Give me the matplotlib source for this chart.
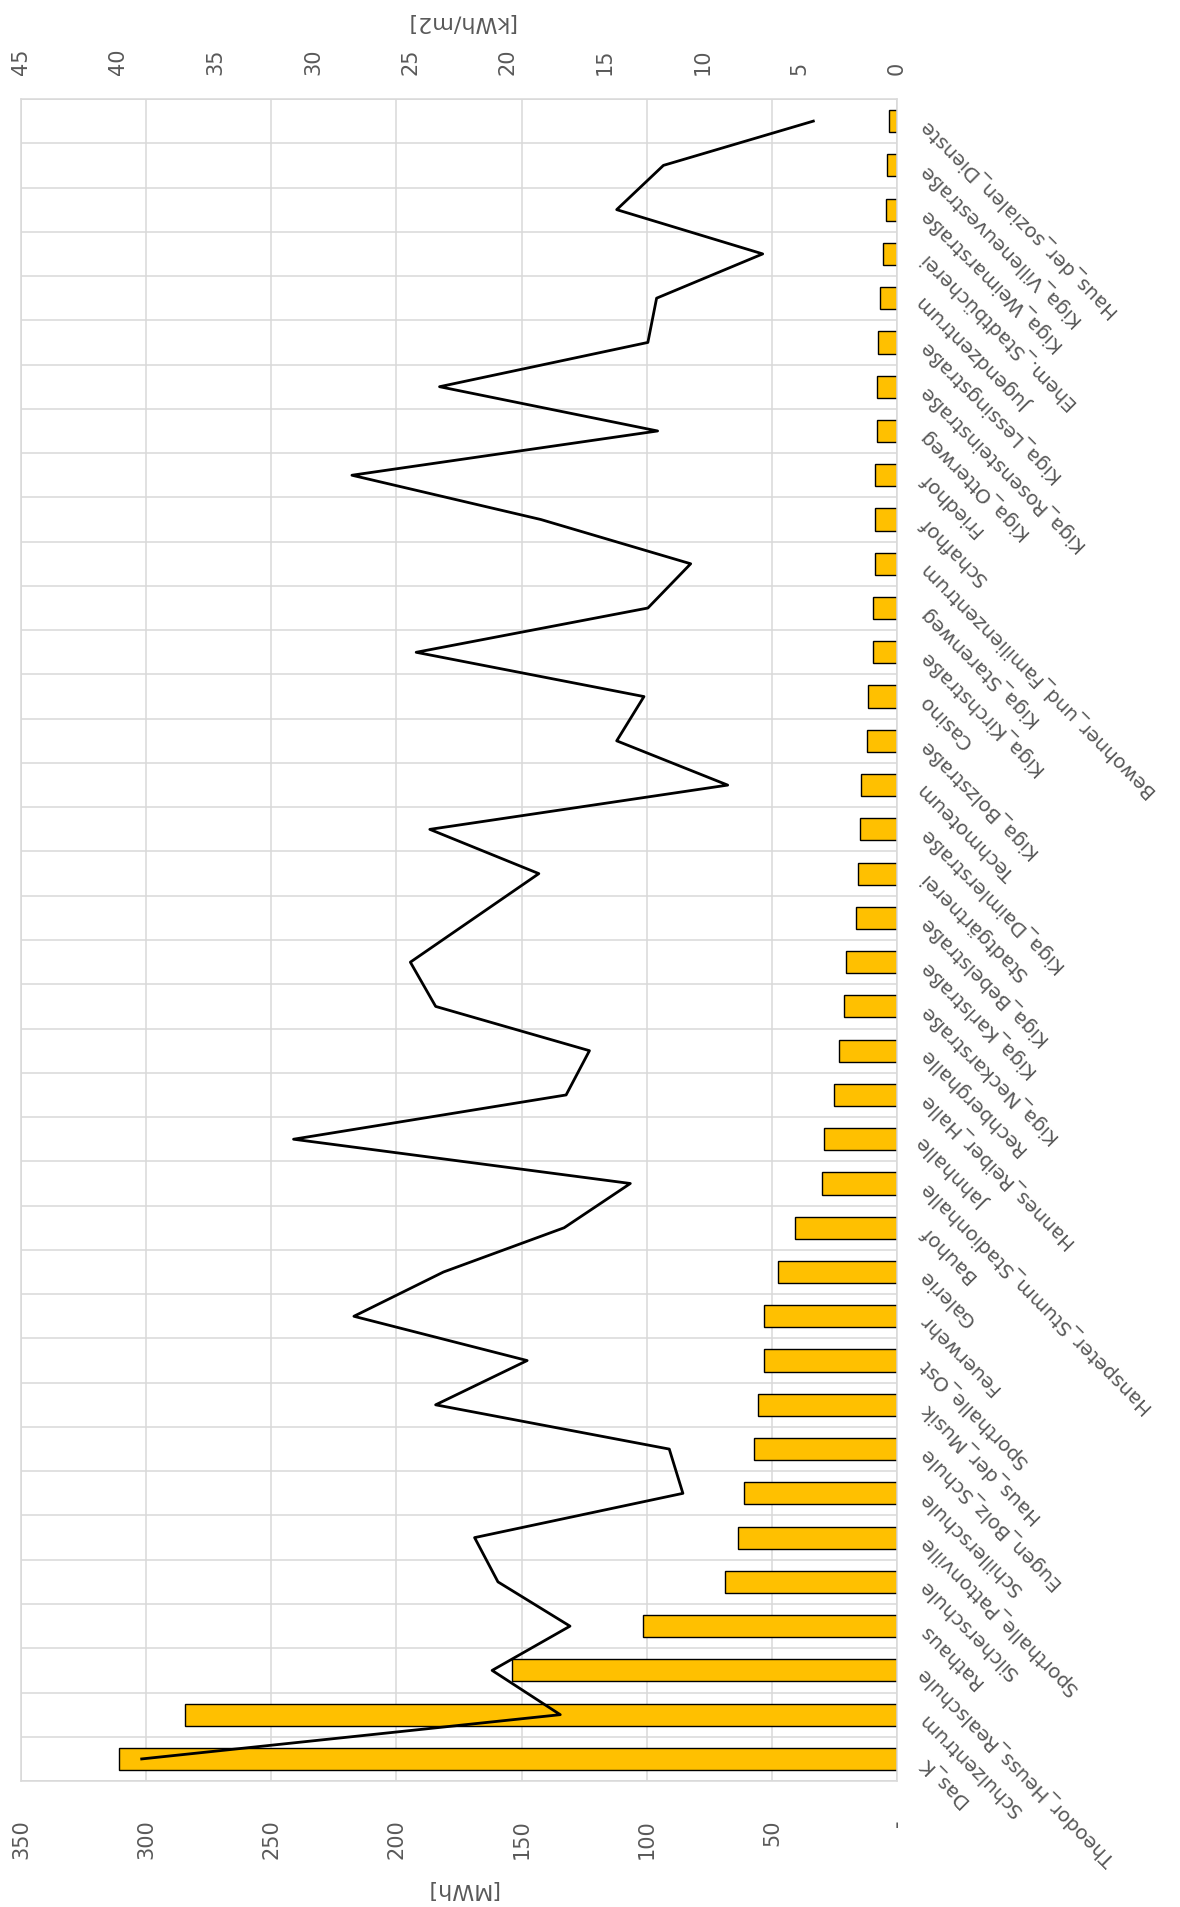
import numpy as np
import matplotlib
matplotlib.use('Agg')
import matplotlib.pyplot as plt

# categories from bottom (largest) to top
categories = [
    'Das_K', 'Schulzentrum', 'Theodor_Heuss_Realschule', 'Rathaus',
    'Silcherschule', 'Sporthalle_Pattonville', 'Schillerschule',
    'Eugen_Bolz_Schule', 'Haus_der_Musik', 'Sporthalle_Ost', 'Feuerwehr',
    'Galerie', 'Bauhof', 'Hanspeter_Stumm_Stadionhalle', 'Jahnhalle',
    'Hannes_Reiber_Halle', 'Rechberghalle', 'Kiga_Neckarstraße',
    'Kiga_Karlstraße', 'Kiga_Bebelstraße', 'Stadtgärtnerei',
    'Kiga_Daimlerstraße', 'Techmoteum', 'Kiga_Bolzstraße', 'Casino',
    'Kiga_Kirchstraße', 'Kiga_Starenweg', 'Bewohner_und_Familienzentrum',
    'Schafhof', 'Friedhof', 'Kiga_Otterweg', 'Kiga_Rosensteinstraße',
    'Kiga_Lessingstraße', 'Jugendzentrum', 'Ehem._Stadtbücherei',
    'Kiga_Weimarstraße', 'Kiga_Villeneuvestraße', 'Haus_der_sozialen_Dienste',
]
mwh = [311, 284.5, 154, 101.3, 68.7, 63.5, 61, 57.2, 55.7, 53, 53,
       47.5, 40.6, 30, 29.2, 25, 23.2, 21, 20.2, 16.4, 15.7,
       14.8, 14.2, 12, 11.8, 9.7, 9.6, 9, 8.8, 8.7, 8.2, 8,
       7.5, 6.8, 5.6, 4.6, 4.2, 3.4]
kwh_m2 = [38.8, 17.3, 20.8, 16.8, 20.5, 21.7, 11.0, 11.7, 23.7, 19.0, 27.9,
          23.3, 17.1, 13.7, 31.0, 17.0, 15.8, 23.7, 25.0, 21.7, 18.4,
          24.0, 8.7, 14.4, 13.0, 24.7, 12.8, 10.6, 18.3, 28.0, 12.3, 23.5,
          12.8, 12.35, 6.9, 14.4, 12.0, 4.3]
mwh_ticks = [0, 50, 100, 150, 200, 250, 300, 350]
mwh_tick_labels = ['-', '50', '100', '150', '200', '250', '300', '350']
kwh_ticks = [0, 5, 10, 15, 20, 25, 30, 35, 40, 45]

gray = '#595959'
grid_c = '#D9D9D9'
plt.rcParams['font.family'] = ['DejaVu Sans']

fig = plt.figure(figsize=(11.8, 19.08), dpi=100)
ax = fig.add_axes([0.0178, 0.066, 0.7424, 0.8816])

y = np.arange(len(categories))
ax.barh(y, mwh, height=0.5, color='#FFC000', edgecolor='black',
        linewidth=1.0, zorder=2)
ax.set_ylim(-0.5, len(categories) - 0.5)
ax.set_xlim(350, 0)

ax.set_xticks(mwh_ticks)
ax.set_xticklabels(mwh_tick_labels, rotation=90, color=gray, fontsize=15)
ax.tick_params(axis='x', length=0, pad=27)

ax.yaxis.tick_right()
ax.set_yticks(y)
ax.set_yticklabels(categories, rotation=135, rotation_mode='anchor',
                   ha='right', va='center', fontsize=14.3, color=gray)
ax.tick_params(axis='y', length=0, pad=18)
ax.set_yticks(np.arange(-0.5, len(categories)), minor=True)
ax.tick_params(which='minor', length=0)
ax.grid(axis='y', which='minor', color=grid_c, lw=1.1)
ax.grid(axis='x', which='major', color=grid_c, lw=1.1)
ax.set_axisbelow(True)
for s in ax.spines.values():
    s.set_color(grid_c)
    s.set_linewidth(1.1)

ax2 = ax.twiny()
ax2.plot(kwh_m2, y, color='black', lw=2.0, zorder=3)
ax2.set_xlim(45, 0)
ax2.set_xticks(kwh_ticks)
ax2.tick_params(axis='x', length=0, pad=18, labelsize=15,
                labelcolor=gray, labelrotation=90)
for s in ax2.spines.values():
    s.set_visible(False)

fig.text(462 / 1180, 1 - 1889 / 1908, '[MWh]', rotation=180, ha='center',
         va='center', fontsize=16, color=gray)
fig.text(460 / 1180, 1 - 22 / 1908, '[kWh/m2]', rotation=180, ha='center',
         va='center', fontsize=16, color=gray)

fig.savefig('out.png', dpi=100)
